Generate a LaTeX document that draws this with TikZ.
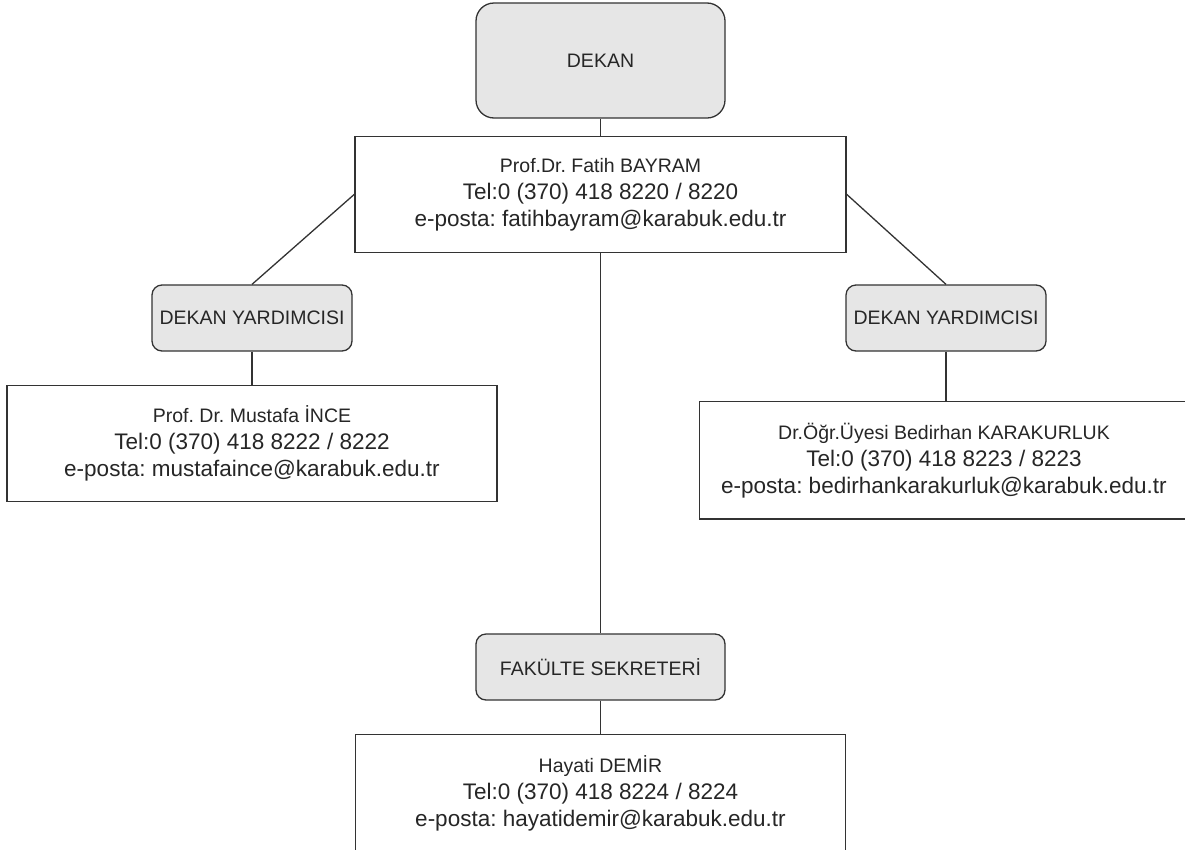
\documentclass[tikz,border=0pt]{standalone}
\usepackage{fontspec}
\setmainfont{Liberation Sans}
\usetikzlibrary{positioning}
\frenchspacing

\definecolor{kutudolgu}{HTML}{E6E6E6}
\definecolor{cizgi}{HTML}{333333}
\definecolor{yazi}{HTML}{262626}

\newcommand{\kisibilgi}[3]{{\fontsize{19.5}{26}\selectfont #1}\\#2\\#3}

\tikzset{
  unvankutu/.style={draw=cizgi, fill=kutudolgu, line width=1.3pt, rounded corners=10pt,
    minimum width=200pt, minimum height=66pt, text=yazi, font=\fontsize{19.5}{24}\selectfont},
  kisikutu/.style={draw=cizgi, fill=white, line width=1.3pt, minimum width=490pt,
    minimum height=116pt, align=center, text=yazi, font=\fontsize{22.5}{27}\selectfont},
  baglanti/.style={draw=cizgi, line width=1.3pt}
}

\begin{document}
\begin{tikzpicture}[x=1pt, y=-1pt]

    \useasboundingbox (0,0) rectangle (1185,849);

    \node[unvankutu, minimum width=249pt, minimum height=115pt, rounded corners=18pt] (Dekan) at (600.5,60.5) {DEKAN};
    \node[kisikutu, minimum width=491pt] (Fatih) [below=17pt of Dekan]
      {\kisibilgi{Prof.Dr. Fatih BAYRAM}{Tel:0 (370) 418 8220 / 8220}{e-posta: fatihbayram@karabuk.edu.tr}};

    \node[unvankutu] (YardimciSol) at (252,318) {DEKAN YARDIMCISI};
    \node[unvankutu] (YardimciSag) at (946,318) {DEKAN YARDIMCISI};

    \node[kisikutu] (Mustafa) [below=33pt of YardimciSol]
      {\kisibilgi{Prof. Dr. Mustafa İNCE}{Tel:0 (370) 418 8222 / 8222}{e-posta: mustafaince@karabuk.edu.tr}};
    % sag kenari sayfanin disinda kalan kutu
    \node[kisikutu, draw=none, minimum width=488pt] (Bedirhan) [below=50pt of YardimciSag, xshift=-2pt]
      {\kisibilgi{Dr.Öğr.Üyesi Bedirhan KARAKURLUK}{Tel:0 (370) 418 8223 / 8223}{e-posta: bedirhankarakurluk@karabuk.edu.tr}};
    \draw[baglanti] ([xshift=20pt]Bedirhan.north east) -- (Bedirhan.north west)
      -- (Bedirhan.south west) -- ([xshift=20pt]Bedirhan.south east);

    \node[unvankutu, minimum width=249pt, minimum height=66pt] (Sekreter) at (600.5,667) {FAKÜLTE SEKRETERİ};
    \node[kisikutu, minimum height=118pt] (Hayati) [below=33pt of Sekreter]
      {\kisibilgi{Hayati DEMİR}{Tel:0 (370) 418 8224 / 8224}{e-posta: hayatidemir@karabuk.edu.tr}};

    \draw[baglanti] (Dekan) -- (Fatih);
    \draw[baglanti] (Fatih.south) -- (Sekreter.north);
    \draw[baglanti] (Fatih.west) -- (YardimciSol.north);
    \draw[baglanti] (Fatih.east) -- (YardimciSag.north);
    \draw[baglanti] (YardimciSol) -- (Mustafa);
    \draw[baglanti] (YardimciSag.south) -- (YardimciSag.south |- Bedirhan.north);
    \draw[baglanti] (Sekreter) -- (Hayati);

\end{tikzpicture}
\end{document}
